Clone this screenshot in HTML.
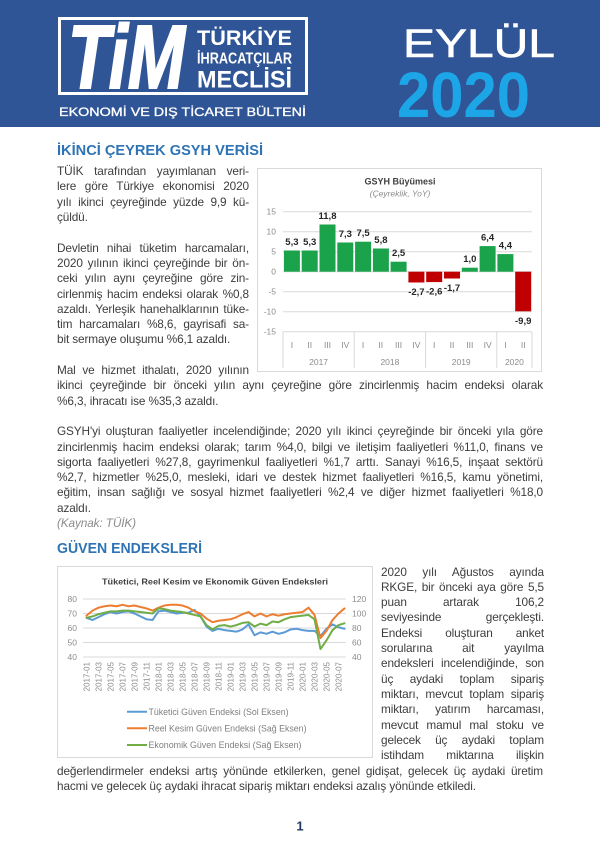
<!DOCTYPE html>
<html>
<head>
<meta charset="utf-8">
<style>
html,body{margin:0;padding:0;background:#fff;}
body{width:600px;height:849px;position:relative;overflow:hidden;font-family:"Liberation Sans",sans-serif;}
svg.bg{position:absolute;left:0;top:0;font-family:"Liberation Sans",sans-serif;}
.blk{position:absolute;font-size:11.8px;line-height:15.3px;color:#3d3d3d;letter-spacing:-0.12px;}
.blk div{height:15.3px;text-align:justify;text-align-last:justify;}
.blk div.l{text-align:left;text-align-last:left;}
.blk div.k{text-align:left;text-align-last:left;font-style:italic;color:#8c8c8c;}
</style>
</head>
<body>
<svg class="bg" width="600" height="849" viewBox="0 0 600 849" xmlns="http://www.w3.org/2000/svg">
  <!-- Header -->
  <rect x="0" y="0" width="600" height="127" fill="#2f5597"/>
  <rect x="59.5" y="18.5" width="247" height="75" fill="none" stroke="#fff" stroke-width="3"/>
  <text x="68" y="88" font-size="90" font-weight="bold" font-style="italic" fill="#fff" stroke="#fff" stroke-width="2" textLength="117" lengthAdjust="spacingAndGlyphs">TiM</text>
  <text x="197" y="45" font-size="21" font-weight="bold" fill="#fff" textLength="95" lengthAdjust="spacingAndGlyphs">TÜRKİYE</text>
  <text x="197" y="63.5" font-size="16" font-weight="bold" fill="#fff" textLength="95" lengthAdjust="spacingAndGlyphs">İHRACATÇILAR</text>
  <text x="197" y="87.5" font-size="24" font-weight="bold" fill="#fff" textLength="95" lengthAdjust="spacingAndGlyphs">MECLİSİ</text>
  <text x="59" y="116" font-size="12" fill="#fff" stroke="#fff" stroke-width="0.3" textLength="247" lengthAdjust="spacingAndGlyphs">EKONOMİ VE DIŞ TİCARET BÜLTENİ</text>
  <text x="403" y="57" font-size="40" fill="#fff" stroke="#fff" stroke-width="0.6" textLength="152" lengthAdjust="spacingAndGlyphs">EYLÜL</text>
  <text x="397" y="117" font-size="64" font-weight="bold" fill="#1ca6e7" textLength="133" lengthAdjust="spacingAndGlyphs">2020</text>

  <!-- Headings -->
  <text x="57" y="155.2" font-size="14.5" font-weight="bold" fill="#2e74b5" textLength="206" lengthAdjust="spacingAndGlyphs">İKİNCİ ÇEYREK GSYH VERİSİ</text>
  <text x="57" y="553.2" font-size="14.5" font-weight="bold" fill="#2e74b5" textLength="145" lengthAdjust="spacingAndGlyphs">GÜVEN ENDEKSLERİ</text>

  <!-- Chart 1 -->
  <rect x="257.5" y="168.5" width="284" height="203" fill="#fff" stroke="#d9d9d9" stroke-width="1"/>
  <text x="400" y="184.5" font-size="9" font-weight="bold" fill="#404040" text-anchor="middle">GSYH Büyümesi</text>
  <text x="400" y="196.5" font-size="8.5" font-style="italic" fill="#8c8c8c" text-anchor="middle">(Çeyreklik, YoY)</text>
  <g stroke="#d9d9d9" stroke-width="1">
    <line x1="283" y1="211.7" x2="532" y2="211.7"/>
    <line x1="283" y1="231.7" x2="532" y2="231.7"/>
    <line x1="283" y1="251.7" x2="532" y2="251.7"/>
    <line x1="283" y1="271.7" x2="532" y2="271.7"/>
    <line x1="283" y1="291.7" x2="532" y2="291.7"/>
    <line x1="283" y1="311.7" x2="532" y2="311.7"/>
    <line x1="283" y1="331.7" x2="532" y2="331.7"/>
    <line x1="283" y1="331.7" x2="283" y2="368"/>
    <line x1="354.2" y1="331.7" x2="354.2" y2="368"/>
    <line x1="425.6" y1="331.7" x2="425.6" y2="368"/>
    <line x1="496.8" y1="331.7" x2="496.8" y2="368"/>
    <line x1="532" y1="331.7" x2="532" y2="368"/>
  </g>
  <g font-size="8.5" fill="#8c8c8c" text-anchor="end">
    <text x="276" y="214.7">15</text>
    <text x="276" y="234.7">10</text>
    <text x="276" y="254.7">5</text>
    <text x="276" y="274.7">0</text>
    <text x="276" y="294.7">-5</text>
    <text x="276" y="314.7">-10</text>
    <text x="276" y="334.7">-15</text>
  </g>
  <g fill="#1aa34a">
    <rect x="283.9" y="250.5" width="16" height="21.2"/>
    <rect x="301.7" y="250.5" width="16" height="21.2"/>
    <rect x="319.5" y="224.5" width="16" height="47.2"/>
    <rect x="337.3" y="242.5" width="16" height="29.2"/>
    <rect x="355.1" y="241.7" width="16" height="30"/>
    <rect x="372.9" y="248.5" width="16" height="23.2"/>
    <rect x="390.6" y="261.7" width="16" height="10"/>
    <rect x="461.8" y="267.7" width="16" height="4"/>
    <rect x="479.6" y="246.1" width="16" height="25.6"/>
    <rect x="497.4" y="254.1" width="16" height="17.6"/>
  </g>
  <g fill="#c00000">
    <rect x="408.4" y="271.7" width="16" height="10.8"/>
    <rect x="426.2" y="271.7" width="16" height="10.4"/>
    <rect x="444.0" y="271.7" width="16" height="6.8"/>
    <rect x="515.2" y="271.7" width="16" height="39.6"/>
  </g>
  <g font-size="9.5" font-weight="bold" fill="#262626" text-anchor="middle">
    <text x="291.9" y="245">5,3</text>
    <text x="309.7" y="245">5,3</text>
    <text x="327.5" y="219">11,8</text>
    <text x="345.3" y="237">7,3</text>
    <text x="363.1" y="236.2">7,5</text>
    <text x="380.9" y="243">5,8</text>
    <text x="398.6" y="256.2">2,5</text>
    <text x="416.4" y="295">-2,7</text>
    <text x="434.2" y="294.6">-2,6</text>
    <text x="452.0" y="291">-1,7</text>
    <text x="469.8" y="262.2">1,0</text>
    <text x="487.6" y="240.6">6,4</text>
    <text x="505.4" y="248.6">4,4</text>
    <text x="523.2" y="323.8">-9,9</text>
  </g>
  <g font-size="8.5" fill="#8c8c8c" text-anchor="middle">
    <text x="291.9" y="348">I</text>
    <text x="309.7" y="348">II</text>
    <text x="327.5" y="348">III</text>
    <text x="345.3" y="348">IV</text>
    <text x="363.1" y="348">I</text>
    <text x="380.8" y="348">II</text>
    <text x="398.6" y="348">III</text>
    <text x="416.4" y="348">IV</text>
    <text x="434.2" y="348">I</text>
    <text x="452.0" y="348">II</text>
    <text x="469.8" y="348">III</text>
    <text x="487.6" y="348">IV</text>
    <text x="505.4" y="348">I</text>
    <text x="523.2" y="348">II</text>
    <text x="318.6" y="365">2017</text>
    <text x="389.9" y="365">2018</text>
    <text x="461.2" y="365">2019</text>
    <text x="514.4" y="365">2020</text>
  </g>

  <!-- Chart 2 -->
  <rect x="57.5" y="566.5" width="315" height="191" fill="#fff" stroke="#d9d9d9" stroke-width="1"/>
  <text x="102" y="584.5" font-size="8.5" font-weight="bold" fill="#404040" textLength="226" lengthAdjust="spacingAndGlyphs">Tüketici, Reel Kesim ve Ekonomik Güven Endeksleri</text>
  <g stroke="#d9d9d9" stroke-width="1">
    <line x1="83" y1="599" x2="346" y2="599"/>
    <line x1="83" y1="613.5" x2="346" y2="613.5"/>
    <line x1="83" y1="628" x2="346" y2="628"/>
    <line x1="83" y1="642.5" x2="346" y2="642.5"/>
    <line x1="83" y1="657" x2="346" y2="657"/>
  </g>
  <g font-size="8.5" fill="#8c8c8c" text-anchor="end">
    <text x="77" y="602">80</text>
    <text x="77" y="616.5">70</text>
    <text x="77" y="631">60</text>
    <text x="77" y="645.5">50</text>
    <text x="77" y="660">40</text>
  </g>
  <g font-size="8.5" fill="#8c8c8c">
    <text x="352" y="602">120</text>
    <text x="352" y="616.5">100</text>
    <text x="352" y="631">80</text>
    <text x="352" y="645.5">60</text>
    <text x="352" y="660">40</text>
  </g>
  <g font-size="8" fill="#8c8c8c" text-anchor="end">
    <text transform="translate(89.5,662) rotate(-90)">2017-01</text>
    <text transform="translate(101.5,662) rotate(-90)">2017-03</text>
    <text transform="translate(113.5,662) rotate(-90)">2017-05</text>
    <text transform="translate(125.5,662) rotate(-90)">2017-07</text>
    <text transform="translate(137.5,662) rotate(-90)">2017-09</text>
    <text transform="translate(149.5,662) rotate(-90)">2017-11</text>
    <text transform="translate(161.5,662) rotate(-90)">2018-01</text>
    <text transform="translate(173.5,662) rotate(-90)">2018-03</text>
    <text transform="translate(185.5,662) rotate(-90)">2018-05</text>
    <text transform="translate(197.5,662) rotate(-90)">2018-07</text>
    <text transform="translate(209.5,662) rotate(-90)">2018-09</text>
    <text transform="translate(221.5,662) rotate(-90)">2018-11</text>
    <text transform="translate(233.5,662) rotate(-90)">2019-01</text>
    <text transform="translate(245.5,662) rotate(-90)">2019-03</text>
    <text transform="translate(257.5,662) rotate(-90)">2019-05</text>
    <text transform="translate(269.5,662) rotate(-90)">2019-07</text>
    <text transform="translate(281.5,662) rotate(-90)">2019-09</text>
    <text transform="translate(293.5,662) rotate(-90)">2019-11</text>
    <text transform="translate(305.5,662) rotate(-90)">2020-01</text>
    <text transform="translate(317.5,662) rotate(-90)">2020-03</text>
    <text transform="translate(329.5,662) rotate(-90)">2020-05</text>
    <text transform="translate(341.5,662) rotate(-90)">2020-07</text>
  </g>
  <g fill="none" stroke-width="2" stroke-linejoin="round" stroke-linecap="round">
    <polyline stroke="#5b9bd5" points="86.5,617.85 92.5,620.03 98.5,617.13 104.5,614.23 110.5,612.05 116.5,613.5 122.5,612.05 128.5,611.33 134.5,613.5 140.5,616.4 146.5,619.3 152.5,620.03 158.5,611.33 164.5,610.6 170.5,612.05 176.5,613.5 182.5,612.78 188.5,612.78 194.5,609.88 200.5,616.4 206.5,626.55 212.5,630.9 218.5,628.73 224.5,630.18 230.5,630.9 236.5,631.63 242.5,629.45 248.5,624.38 254.5,635.25 260.5,632.35 266.5,633.8 272.5,631.63 278.5,633.8 284.5,632.35 290.5,629.45 296.5,628.73 302.5,630.18 308.5,630.9 314.5,630.9 320.5,635.98 326.5,628.73 332.5,624.38 338.5,627.28 344.5,628.73"/>
    <polyline stroke="#ed7d31" points="86.5,615.67 92.5,610.6 98.5,607.7 104.5,606.25 110.5,605.53 116.5,606.25 122.5,604.8 128.5,606.25 134.5,605.53 140.5,606.98 146.5,608.43 152.5,610.6 158.5,607.7 164.5,605.53 170.5,604.8 176.5,604.8 182.5,605.53 188.5,607.7 194.5,611.33 200.5,613.5 206.5,618.58 212.5,622.2 218.5,620.75 224.5,620.03 230.5,619.3 236.5,617.13 242.5,614.23 248.5,612.05 254.5,616.4 260.5,613.5 266.5,616.4 272.5,614.23 278.5,615.68 284.5,614.23 290.5,613.5 296.5,612.78 302.5,612.05 308.5,607.7 314.5,614.95 320.5,638.15 326.5,630.9 332.5,620.03 338.5,613.5 344.5,608.43"/>
    <polyline stroke="#70ad47" points="86.5,617.85 92.5,616.4 98.5,614.23 104.5,612.78 110.5,611.33 116.5,611.33 122.5,610.6 128.5,610.6 134.5,611.33 140.5,612.05 146.5,612.78 152.5,613.5 158.5,608.43 164.5,609.15 170.5,610.6 176.5,611.33 182.5,612.05 188.5,613.5 194.5,614.95 200.5,616.4 206.5,625.1 212.5,629.45 218.5,625.83 224.5,625.1 230.5,626.55 236.5,625.1 242.5,622.93 248.5,622.2 254.5,626.55 260.5,623.65 266.5,625.1 272.5,621.48 278.5,622.2 284.5,619.3 290.5,617.13 296.5,616.4 302.5,615.68 308.5,614.95 314.5,619.3 320.5,649.03 326.5,640.33 332.5,630.18 338.5,625.1 344.5,623.29"/>
  </g>
  <g stroke-width="2">
    <line x1="127" y1="711.7" x2="147" y2="711.7" stroke="#5b9bd5"/>
    <line x1="127" y1="728.3" x2="147" y2="728.3" stroke="#ed7d31"/>
    <line x1="127" y1="745" x2="147" y2="745" stroke="#70ad47"/>
  </g>
  <g font-size="9" fill="#7f7f7f">
    <text x="148.5" y="714.8" textLength="140" lengthAdjust="spacingAndGlyphs">Tüketici Güven Endeksi (Sol Eksen)</text>
    <text x="148.5" y="731.4" textLength="158" lengthAdjust="spacingAndGlyphs">Reel Kesim Güven Endeksi (Sağ Eksen)</text>
    <text x="148.5" y="748.1" textLength="153" lengthAdjust="spacingAndGlyphs">Ekonomik Güven Endeksi (Sağ Eksen)</text>
  </g>

  <!-- Page number -->
  <text x="300" y="830.5" text-anchor="middle" font-size="13" font-weight="bold" fill="#1f3864">1</text>
</svg>

<div class="blk" style="left:57px;top:164.2px;width:192px;">
  <div>TÜİK tarafından yayımlanan veri-</div>
  <div>lere göre Türkiye ekonomisi 2020</div>
  <div>yılı ikinci çeyreğinde yüzde 9,9 kü-</div>
  <div class="l">çüldü.</div>
  <div class="l"></div>
  <div>Devletin nihai tüketim harcamaları,</div>
  <div>2020 yılının ikinci çeyreğinde bir ön-</div>
  <div>ceki yılın aynı çeyreğine göre zin-</div>
  <div>cirlenmiş hacim endeksi olarak %0,8</div>
  <div>azaldı. Yerleşik hanehalklarının tüke-</div>
  <div>tim harcamaları %8,6, gayrisafi sa-</div>
  <div class="l">bit sermaye oluşumu %6,1 azaldı.</div>
  <div class="l"></div>
  <div>Mal ve hizmet ithalatı, 2020 yılının</div>
</div>

<div class="blk" style="left:57px;top:378.4px;width:486px;">
  <div>ikinci çeyreğinde bir önceki yılın aynı çeyreğine göre zincirlenmiş hacim endeksi olarak</div>
  <div class="l">%6,3, ihracatı ise %35,3 azaldı.</div>
  <div class="l"></div>
  <div>GSYH'yi oluşturan faaliyetler incelendiğinde; 2020 yılı ikinci çeyreğinde bir önceki yıla göre</div>
  <div>zincirlenmiş hacim endeksi olarak; tarım %4,0, bilgi ve iletişim faaliyetleri %11,0, finans ve</div>
  <div>sigorta faaliyetleri %27,8, gayrimenkul faaliyetleri %1,7 arttı. Sanayi %16,5, inşaat sektörü</div>
  <div>%2,7, hizmetler %25,0, mesleki, idari ve destek hizmet faaliyetleri %16,5, kamu yönetimi,</div>
  <div>eğitim, insan sağlığı ve sosyal hizmet faaliyetleri %2,4 ve diğer hizmet faaliyetleri %18,0</div>
  <div class="l">azaldı.</div>
  <div class="k">(Kaynak: TÜİK)</div>
</div>

<div class="blk" style="left:381px;top:564.6px;width:163px;">
  <div>2020 yılı Ağustos ayında</div>
  <div>RKGE, bir önceki aya göre 5,5</div>
  <div>puan artarak 106,2</div>
  <div>seviyesinde gerçekleşti.</div>
  <div>Endeksi oluşturan anket</div>
  <div>sorularına ait yayılma</div>
  <div>endeksleri incelendiğinde, son</div>
  <div>üç aydaki toplam sipariş</div>
  <div>miktarı, mevcut toplam sipariş</div>
  <div>miktarı, yatırım harcaması,</div>
  <div>mevcut mamul mal stoku ve</div>
  <div>gelecek üç aydaki toplam</div>
  <div>istihdam miktarına ilişkin</div>
</div>

<div class="blk" style="left:57px;top:763.5px;width:486px;">
  <div>değerlendirmeler endeksi artış yönünde etkilerken, genel gidişat, gelecek üç aydaki üretim</div>
  <div class="l">hacmi ve gelecek üç aydaki ihracat sipariş miktarı endeksi azalış yönünde etkiledi.</div>
</div>
</body>
</html>
